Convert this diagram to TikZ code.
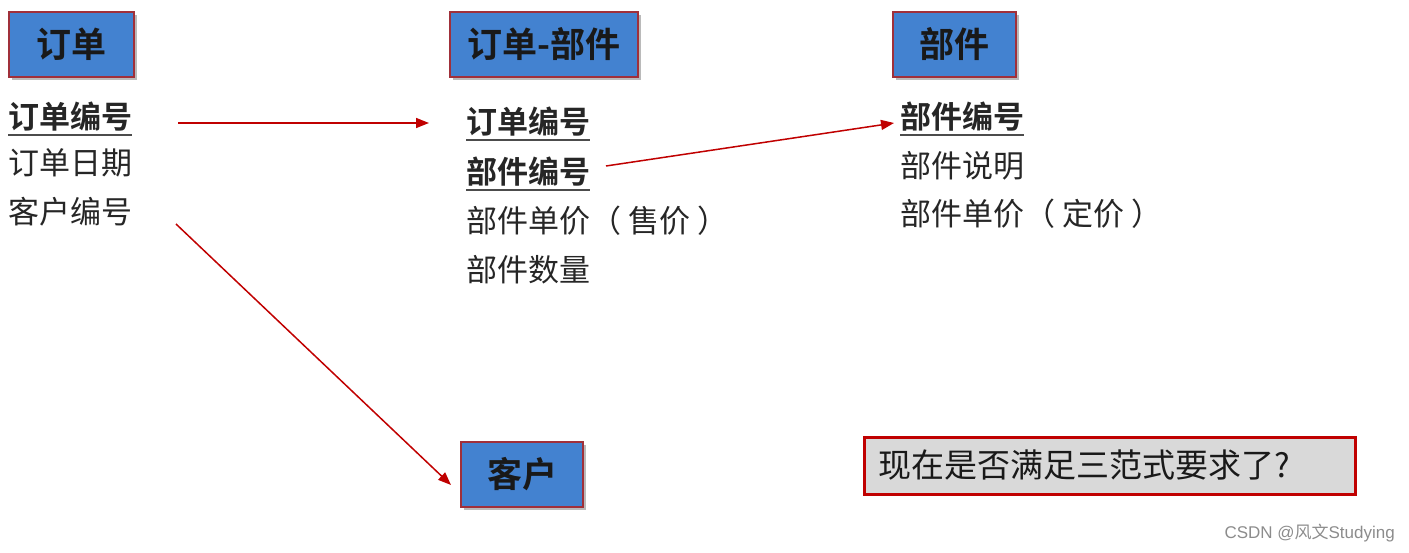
\documentclass[tikz,border=0pt]{standalone}
\usepackage{fontspec}
\setmainfont{Noto Sans CJK SC}[BoldFont={Noto Sans CJK SC Bold}]
\newfontfamily\wmfont{Liberation Sans}
\usetikzlibrary{shadows,arrows.meta}
\definecolor{boxblue}{HTML}{4382D0}
\definecolor{boxred}{HTML}{A0303A}
\definecolor{arrred}{HTML}{C00000}
\definecolor{qgray}{HTML}{D9D9D9}
\tikzset{
  entity/.style={draw=boxred, line width=1.2pt, fill=boxblue, minimum height=65pt, inner sep=0pt,
    drop shadow={shadow xshift=3pt, shadow yshift=-3pt, fill=black!45, opacity=0.6},
    font=\fontsize{35}{40}\selectfont\bfseries, text=black!90},
  attr/.style={anchor=west, inner sep=0pt, font=\fontsize{31}{36}\selectfont, text=black!85},
  key/.style={attr, font=\fontsize{31}{36}\selectfont\bfseries},
  ul/.style={draw=black!70, line width=1.6pt},
  rel/.style={draw=arrred, line width=1.5pt, -{Triangle[length=13pt,width=10pt]}},
}
\begin{document}
\begin{tikzpicture}[x=1pt,y=1pt]
\useasboundingbox (0,0) rectangle (1409,-553);
% entity boxes
\node[entity, minimum width=125pt] (order) at (71.5,-44.5) {订单};
\node[entity, minimum width=188pt] (orderpart) at (544,-44.5) {订单-部件};
\node[entity, minimum width=123pt] (part) at (954.5,-44.5) {部件};
\node[entity, minimum width=122pt] (customer) at (522,-474.5) {客户};
% left attributes
\node[key] (o1) at (8,-117) {订单编号};
\draw[ul] ([yshift=-3pt]o1.south west) -- ([yshift=-3pt]o1.south east);
\node[attr] (o2) at (8,-163) {订单日期};
\node[attr] (o3) at (8,-212) {客户编号};
% middle attributes
\node[key] (m1) at (466,-122) {订单编号};
\draw[ul] ([yshift=-3pt]m1.south west) -- ([yshift=-3pt]m1.south east);
\node[key] (m2) at (466,-172) {部件编号};
\draw[ul] ([yshift=-3pt]m2.south west) -- ([yshift=-3pt]m2.south east);
\node[attr] (m3) at (466,-221) {部件单价（ 售价 ）};
\node[attr] (m4) at (466,-270) {部件数量};
% right attributes
\node[key] (p1) at (900,-117) {部件编号};
\draw[ul] ([yshift=-3pt]p1.south west) -- ([yshift=-3pt]p1.south east);
\node[attr] (p2) at (900,-166) {部件说明};
\node[attr] (p3) at (900,-214) {部件单价（ 定价 ）};
% arrows
\coordinate (a1s) at (178,-123);
\coordinate (a1e) at (429,-123);
\draw[rel] (a1s) -- (a1e);
\coordinate (a2s) at (606,-166);
\draw[rel] (a2s) -- ([xshift=-6pt,yshift=-6pt]p1.west);
\coordinate (a3s) at (176,-224);
\coordinate (a3e) at (451,-485);
\draw[rel] (a3s) -- (a3e);
% question
\node[draw=arrred, line width=3pt, fill=qgray, minimum height=57pt, inner ysep=0pt, inner xsep=14pt,
  text width=463pt, align=left, font=\fontsize{33}{40}\selectfont, text=black!90] (q) at (1109.5,-465.5) {现在是否满足三范式要求了?};
% watermark
\node[anchor=east, inner sep=0pt, font=\fontsize{17}{20}\selectfont, text=black!45] (wm) at (1395,-533) {\wmfont CSDN @{\rmfamily 风文}Studying};
\end{tikzpicture}
\end{document}
